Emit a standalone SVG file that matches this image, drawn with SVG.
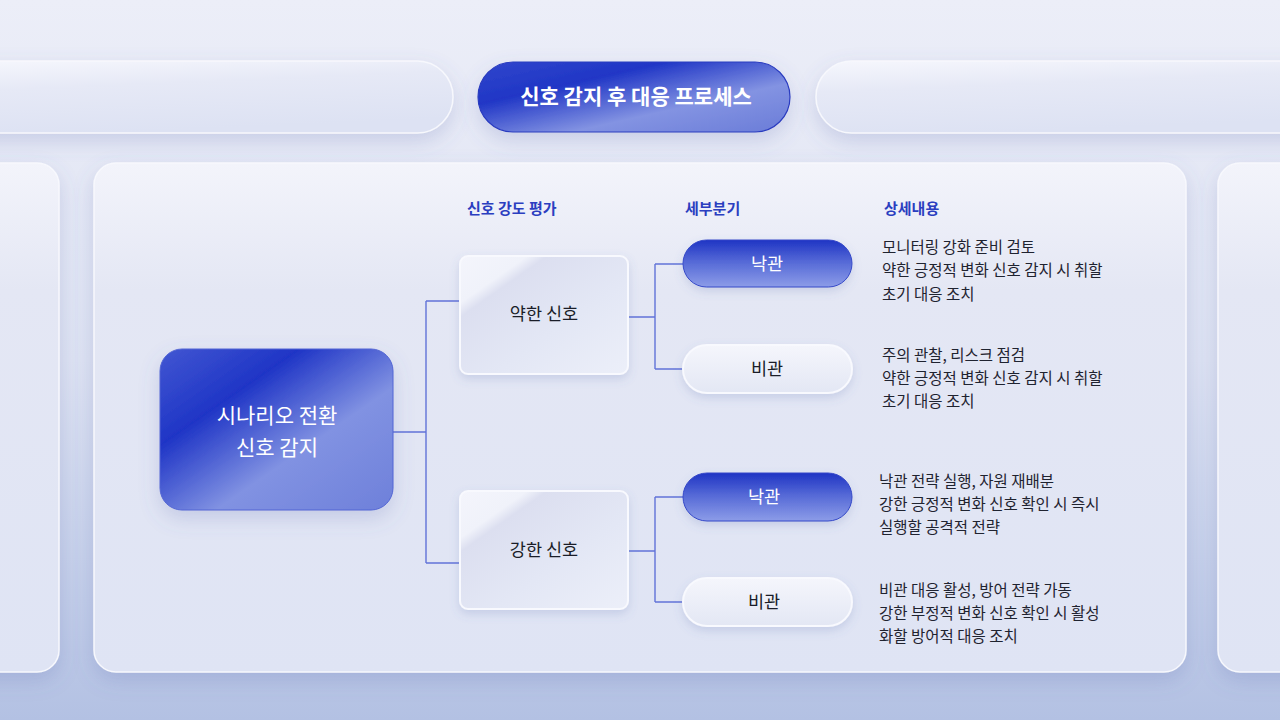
<svg xmlns="http://www.w3.org/2000/svg" width="1280" height="720" viewBox="0 0 1280 720">
<defs>
<linearGradient id="bg" x1="0" y1="0" x2="0" y2="1">
<stop offset="0" stop-color="#eceef8"/>
<stop offset="0.5" stop-color="#dde2f2"/>
<stop offset="1" stop-color="#b3c1e3"/>
</linearGradient>
<linearGradient id="glass" x1="0" y1="0" x2="0.3" y2="1">
<stop offset="0" stop-color="#f6f7fd"/>
<stop offset="0.4" stop-color="#e6e9f6"/>
<stop offset="1" stop-color="#dde2f3"/>
</linearGradient>
<linearGradient id="panel" x1="0" y1="0" x2="0" y2="1">
<stop offset="0" stop-color="#f3f4fb"/>
<stop offset="0.25" stop-color="#e4e7f4"/>
<stop offset="1" stop-color="#dfe4f4"/>
</linearGradient>
<linearGradient id="card" x1="0" y1="0" x2="1" y2="1">
<stop offset="0" stop-color="#f4f5fc"/>
<stop offset="0.2" stop-color="#f0f2fa"/>
<stop offset="0.26" stop-color="#dcdff0"/>
<stop offset="0.6" stop-color="#e3e7f5"/>
<stop offset="1" stop-color="#eceff9"/>
</linearGradient>
<linearGradient id="blueNode" x1="0" y1="0" x2="1" y2="1">
<stop offset="0" stop-color="#4257d2"/>
<stop offset="0.3" stop-color="#1f35c6"/>
<stop offset="0.62" stop-color="#8192e2"/>
<stop offset="1" stop-color="#6e80da"/>
</linearGradient>
<linearGradient id="bluePill" x1="0" y1="0" x2="0" y2="1">
<stop offset="0" stop-color="#1f34c4"/>
<stop offset="0.45" stop-color="#5468d6"/>
<stop offset="1" stop-color="#8c9ce8"/>
</linearGradient>
<linearGradient id="titlePill" x1="0" y1="0" x2="1" y2="1">
<stop offset="0" stop-color="#3147cc"/>
<stop offset="0.3" stop-color="#2036c6"/>
<stop offset="0.65" stop-color="#8393e2"/>
<stop offset="1" stop-color="#6a7cd8"/>
</linearGradient>
<linearGradient id="whitePill" x1="0" y1="0" x2="0" y2="1">
<stop offset="0" stop-color="#f5f6fc"/>
<stop offset="1" stop-color="#e3e7f4"/>
</linearGradient>
<filter id="sh" x="-30%" y="-30%" width="160%" height="170%">
<feDropShadow dx="0" dy="8" stdDeviation="10" flood-color="#5a6cb0" flood-opacity="0.22"/>
</filter>
<filter id="shs" x="-30%" y="-30%" width="160%" height="170%">
<feDropShadow dx="0" dy="4" stdDeviation="5" flood-color="#5a6cb0" flood-opacity="0.2"/>
</filter>
</defs>
<style>
.t{font-family:"Noto Sans CJK KR","Noto Sans",sans-serif}
.hdr{font-size:15px;font-weight:700;fill:#2b3ec0}
.det{font-size:15.5px;fill:#1f2330}
.lbl{font-size:17.5px;fill:#1a1d28}
.wl{font-size:17.5px;fill:#ffffff}
.conn{fill:none;stroke:#6173d8;stroke-width:1.4}
</style>
<rect width="1280" height="720" fill="url(#bg)"/>

<g id="bg-panels">
<rect x="-60" y="61" width="513" height="72" rx="36" fill="url(#glass)" stroke="#f7f8fd" stroke-width="1.5" filter="url(#sh)"/>
<rect x="816" y="61" width="520" height="72" rx="36" fill="url(#glass)" stroke="#f7f8fd" stroke-width="1.5" filter="url(#sh)"/>
<rect x="-60" y="163" width="119" height="509" rx="22" fill="url(#panel)" stroke="#f7f8fd" stroke-width="1.5" filter="url(#sh)"/>
<rect x="1218" y="163" width="120" height="509" rx="22" fill="url(#panel)" stroke="#f7f8fd" stroke-width="1.5" filter="url(#sh)"/>
<rect x="94" y="163" width="1092" height="509" rx="22" fill="url(#panel)" stroke="#f7f8fd" stroke-width="1.5" filter="url(#sh)"/>
</g>

<g id="title">
<rect x="478" y="62" width="312" height="70" rx="35" fill="url(#titlePill)" stroke="#2a3cc0" stroke-width="1.2" filter="url(#sh)"/>
<text class="t" x="636" y="104" text-anchor="middle" font-size="21" font-weight="700" fill="#ffffff">신호 감지 후 대응 프로세스</text>
</g>

<g id="headers">
<text class="t hdr" x="467" y="214">신호 강도 평가</text>
<text class="t hdr" x="685" y="214">세부분기</text>
<text class="t hdr" x="884" y="214">상세내용</text>
</g>

<g id="connectors">
<path class="conn" d="M393,432 H426 M426,301 V563 M426,301 H460 M426,563 H460"/>
<path class="conn" d="M628,317 H655 M655,264 V369 M655,264 H683 M655,369 H683"/>
<path class="conn" d="M628,551 H655 M655,497 V602 M655,497 H683 M655,602 H683"/>
</g>

<g id="root">
<rect x="160" y="349" width="233" height="161" rx="22" fill="url(#blueNode)" stroke="#5265d4" stroke-width="1" filter="url(#sh)"/>
<text class="t" x="277" y="423" text-anchor="middle" font-size="21" fill="#ffffff">시나리오 전환</text>
<text class="t" x="277" y="455" text-anchor="middle" font-size="21" fill="#ffffff">신호 감지</text>
</g>

<g id="weak">
<rect x="460" y="256" width="168" height="118" rx="8" fill="url(#card)" stroke="#f8f9fe" stroke-width="2" filter="url(#shs)"/>
<text class="t lbl" x="544" y="320" text-anchor="middle">약한 신호</text>
</g>

<g id="strong">
<rect x="460" y="491" width="168" height="118" rx="8" fill="url(#card)" stroke="#f8f9fe" stroke-width="2" filter="url(#shs)"/>
<text class="t lbl" x="544" y="556" text-anchor="middle">강한 신호</text>
</g>

<g id="weak-opt">
<rect x="683" y="240" width="169" height="47" rx="23.5" fill="url(#bluePill)" stroke="#3448c8" stroke-width="1" filter="url(#shs)"/>
<text class="t wl" x="767" y="270" text-anchor="middle">낙관</text>
</g>
<g id="weak-pes">
<rect x="683" y="345" width="169" height="48" rx="24" fill="url(#whitePill)" stroke="#f8f9fe" stroke-width="2" filter="url(#shs)"/>
<text class="t lbl" x="767" y="375" text-anchor="middle">비관</text>
</g>
<g id="strong-opt">
<rect x="683" y="473" width="169" height="48" rx="24" fill="url(#bluePill)" stroke="#3448c8" stroke-width="1" filter="url(#shs)"/>
<text class="t wl" x="764" y="503" text-anchor="middle">낙관</text>
</g>
<g id="strong-pes">
<rect x="683" y="578" width="169" height="48" rx="24" fill="url(#whitePill)" stroke="#f8f9fe" stroke-width="2" filter="url(#shs)"/>
<text class="t lbl" x="764" y="608" text-anchor="middle">비관</text>
</g>

<g id="details">
<text class="t det" x="882" y="253">모니터링 강화 준비 검토</text>
<text class="t det" x="882" y="276">약한 긍정적 변화 신호 감지 시 취할</text>
<text class="t det" x="882" y="300">초기 대응 조치</text>
<text class="t det" x="882" y="361">주의 관찰, 리스크 점검</text>
<text class="t det" x="882" y="384">약한 긍정적 변화 신호 감지 시 취할</text>
<text class="t det" x="882" y="407">초기 대응 조치</text>
<text class="t det" x="879" y="487">낙관 전략 실행, 자원 재배분</text>
<text class="t det" x="879" y="510">강한 긍정적 변화 신호 확인 시 즉시</text>
<text class="t det" x="879" y="533">실행할 공격적 전략</text>
<text class="t det" x="879" y="596">비관 대응 활성, 방어 전략 가동</text>
<text class="t det" x="879" y="619">강한 부정적 변화 신호 확인 시 활성</text>
<text class="t det" x="879" y="642">화할 방어적 대응 조치</text>
</g>
</svg>
